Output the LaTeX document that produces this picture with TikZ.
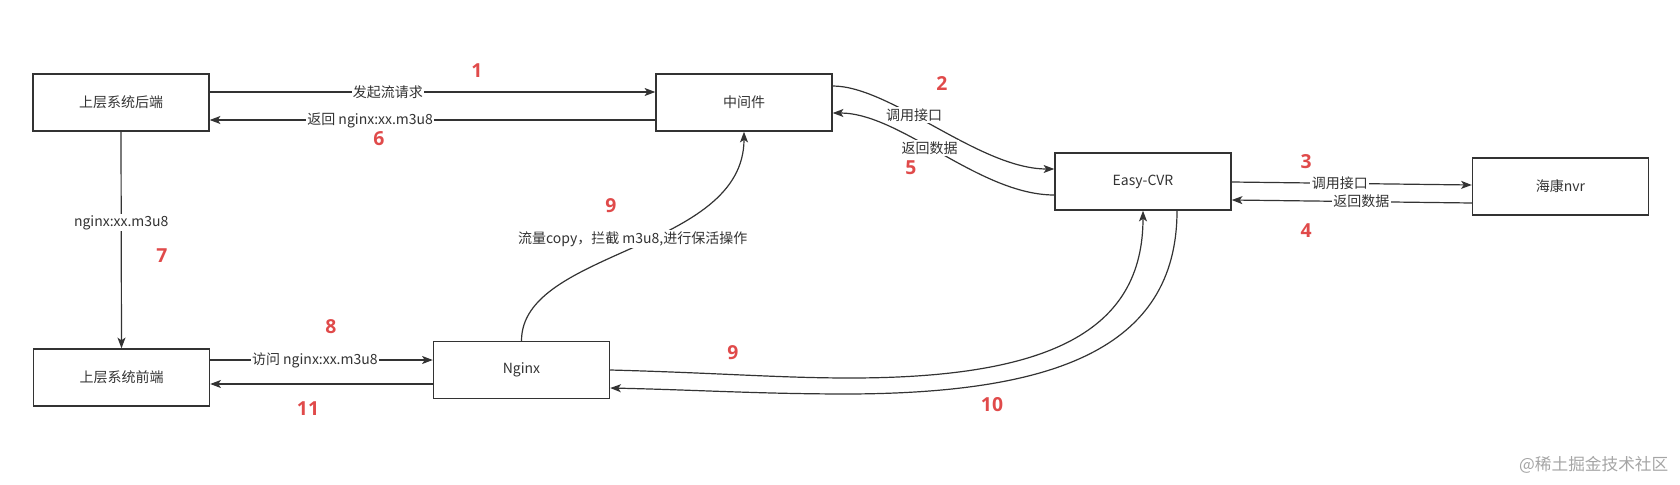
\documentclass[tikz,border=0pt]{standalone}
\usepackage{fontspec}
\setmainfont{Noto Sans CJK SC}
\newfontfamily\numfont{Open Sans}
\usetikzlibrary{arrows.meta,calc}
\definecolor{inkgray}{RGB}{51,51,51}
\definecolor{stepred}{RGB}{224,74,74}
\definecolor{markgray}{RGB}{165,165,165}

\begin{document}
\begin{tikzpicture}[x=0.75pt,y=-0.75pt,
  box/.style={draw=inkgray,line width=1.1pt,minimum width=132pt,minimum height=42.75pt,inner sep=0pt,font=\fontsize{10.5}{12}\selectfont,text=inkgray},
  link/.style={draw=inkgray,line width=0.9pt,-{Stealth[length=8pt,width=6pt,inset=2pt]}},
  tag/.style={fill=white,inner sep=1pt,font=\fontsize{10.5}{12}\selectfont,text=inkgray},
  num/.style={font=\numfont\bfseries\fontsize{14.5}{16}\selectfont,text=stepred}]
  \useasboundingbox (0,0) rectangle (1680,485);
  \node[box] (backend) at (121,102.5) {上层系统后端};
  \node[box] (middleware) at (744,102.5) {中间件};
  \node[box] (easycvr) at (1143,181.5) {Easy-CVR};
  \node[box] (nvr) at (1560.5,186.5) {海康nvr};
  \node[box] (frontend) at (121.5,377.5) {上层系统前端};
  \node[box] (nginx) at (521.5,370) {Nginx};
  \coordinate (dip9) at (850,378);
  \coordinate (dip10) at (850,394);
  \draw[link] ($(backend.east)+(0,-10.5)$) -- node[tag,pos=0.4] (ask) {发起流请求} ($(middleware.west)+(0,-10.5)$);
  \draw[link] ($(middleware.west)+(0,17.5)$) -- node[tag,pos=0.64] (back) {返回 nginx:xx.m3u8} ($(backend.east)+(0,17.5)$);
  \draw[link] ($(middleware.east)+(0,-16.5)$) .. controls +(58,0) and +(-75,0) .. node[tag,pos=0.4] (callcvr) {调用接口} ($(easycvr.west)+(0,-12.5)$);
  \draw[link] ($(easycvr.west)+(0,13.5)$) .. controls +(-75,0) and +(68,0) .. node[tag,pos=0.55] (datacvr) {返回数据} ($(middleware.east)+(0,10.5)$);
  \draw[link] ($(easycvr.east)+(0,0.5)$) -- node[tag,pos=0.45] (callnvr) {调用接口} ($(nvr.west)+(0,-1.5)$);
  \draw[link] ($(nvr.west)+(0,16.5)$) -- node[tag,pos=0.46] (datanvr) {返回数据} ($(easycvr.east)+(0,18.5)$);
  \draw[link] (backend.south) -- node[tag,pos=0.42] (addr) {nginx:xx.m3u8} (frontend.north);
  \draw[link] ($(frontend.east)+(0,-17.5)$) -- node[tag,pos=0.47] (visit) {访问 nginx:xx.m3u8} ($(nginx.west)+(0,-10)$);
  \draw[link] ($(nginx.west)+(0,14)$) -- ($(frontend.east)+(0,6.5)$);
  \draw[link] (nginx.north) .. controls +(0,-91) and +(0,119) .. node[tag,pos=0.5,yshift=6pt] (copy) {流量copy，拦截 m3u8,进行保活操作} (middleware.south);
  \draw[link] (nginx.east) .. controls +(110,3) and +(-70,0) .. (dip9) .. controls +(200,0) and +(0,120) .. (easycvr.south);
  \draw[link] ($(easycvr.south)+(34,0)$) .. controls +(0,140) and +(200,-1) .. (dip10) .. controls +(-90,0) and +(90,2) .. ($(nginx.east)+(0,18)$);
  \node[num] (step1) at (477,71) {1};
  \node[num] (step2) at (942,83) {2};
  \node[num] (step3) at (1306,162) {3};
  \node[num] (step4) at (1306,231) {4};
  \node[num] (step5) at (911,168) {5};
  \node[num] (step6) at (379,139) {6};
  \node[num] (step7) at (162,256) {7};
  \node[num] (step8) at (331,327) {8};
  \node[num] (step9a) at (611,206) {9};
  \node[num] (step9b) at (733,353) {9};
  \node[num] (step10) at (992,405) {10};
  \node[num] (step11) at (308,409) {11};
  \node[text=markgray,font=\fontsize{12.5}{14}\selectfont,anchor=east] (credit) at (1673,465) {@稀土掘金技术社区};
\end{tikzpicture}
\end{document}
